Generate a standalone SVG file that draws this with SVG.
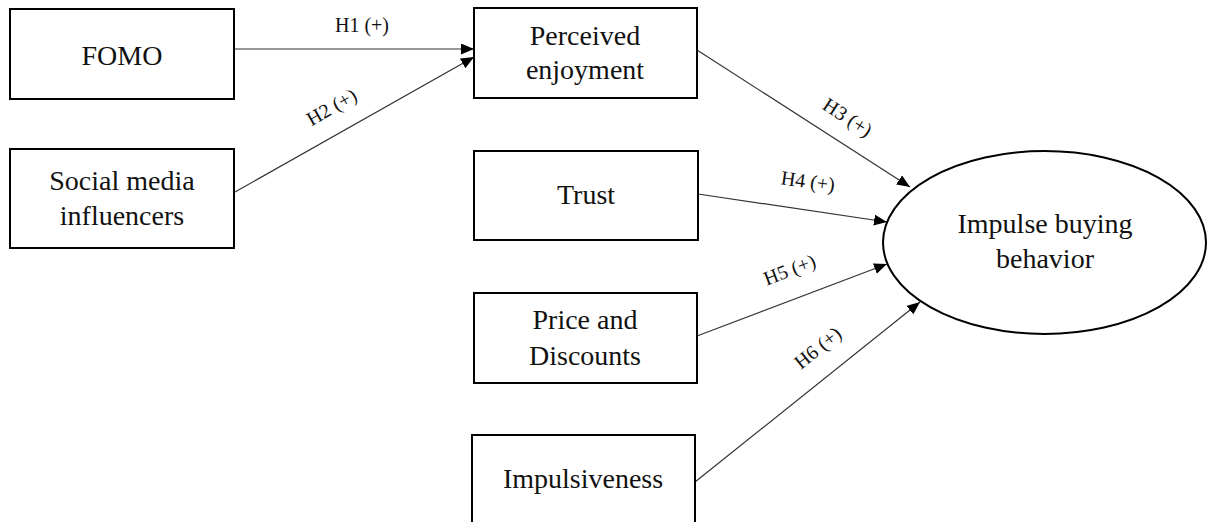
<svg xmlns="http://www.w3.org/2000/svg" width="1207" height="522" viewBox="0 0 1207 522">
<style>
.box{fill:#fff;stroke:#000;stroke-width:2}
.nt{font-family:"Liberation Serif","Times New Roman",serif;font-size:28px;fill:#111;text-anchor:middle}
.lb{font-family:"Liberation Serif","Times New Roman",serif;font-size:20px;fill:#111;text-anchor:middle}
.cn{stroke:#333;stroke-width:1.2;fill:none;marker-end:url(#ah)}
</style>
<defs>
<marker id="ah" markerUnits="userSpaceOnUse" markerWidth="14" markerHeight="12" refX="13" refY="5.5" orient="auto">
<path d="M0,0 L13,5.5 L0,11 z" fill="#000"/>
</marker>
</defs>
<rect width="1207" height="522" fill="#fff"/>
<g id="connectors">
<line class="cn" x1="235" y1="49" x2="474" y2="49"/>
<line class="cn" x1="235" y1="192" x2="474" y2="57"/>
<line class="cn" x1="697" y1="50" x2="910" y2="187"/>
<line class="cn" x1="698" y1="194" x2="887" y2="222"/>
<line class="cn" x1="697" y1="336" x2="887" y2="264"/>
<line class="cn" x1="695" y1="482" x2="920" y2="302"/>
<text class="lb" x="362" y="32">H1 (+)</text>
<text class="lb" transform="translate(335,113) rotate(-30)">H2 (+)</text>
<text class="lb" transform="translate(844,123) rotate(33)">H3 (+)</text>
<text class="lb" transform="translate(807,188) rotate(8)">H4 (+)</text>
<text class="lb" transform="translate(792,276) rotate(-21)">H5 (+)</text>
<text class="lb" transform="translate(822,353) rotate(-39)">H6 (+)</text>
</g>
<g id="fomo">
<rect class="box" x="10" y="9" width="224" height="90"/>
<text class="nt" x="122" y="65">FOMO</text>
</g>
<g id="smi">
<rect class="box" x="10" y="149" width="224" height="99"/>
<text class="nt" x="122" y="190">Social media</text>
<text class="nt" x="122" y="225">influencers</text>
</g>
<g id="pe">
<rect class="box" x="474" y="8" width="223" height="90"/>
<text class="nt" x="585" y="45">Perceived</text>
<text class="nt" x="585" y="79">enjoyment</text>
</g>
<g id="trust">
<rect class="box" x="474" y="151" width="224" height="89"/>
<text class="nt" x="586" y="204">Trust</text>
</g>
<g id="price">
<rect class="box" x="474" y="293" width="223" height="90"/>
<text class="nt" x="585" y="329">Price and</text>
<text class="nt" x="585" y="365">Discounts</text>
</g>
<g id="impulsiveness">
<rect class="box" x="472" y="435" width="223" height="100"/>
<text class="nt" x="583" y="488">Impulsiveness</text>
</g>
<g id="ibb">
<ellipse cx="1044.5" cy="242.5" rx="161.5" ry="91.5" fill="#fff" stroke="#000" stroke-width="2"/>
<text class="nt" x="1045" y="233">Impulse buying</text>
<text class="nt" x="1045" y="268">behavior</text>
</g>
</svg>
